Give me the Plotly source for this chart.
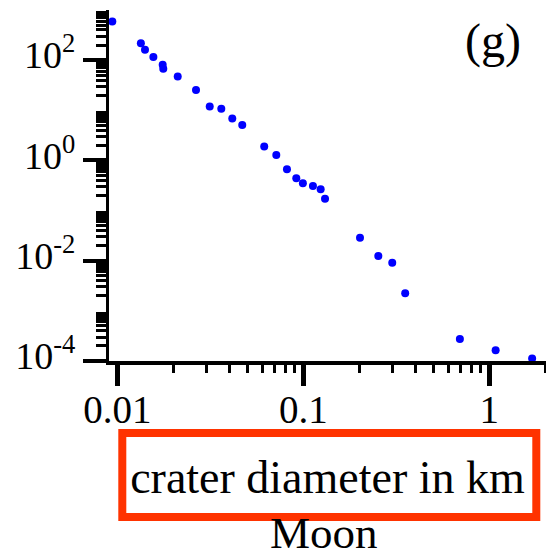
import plotly.graph_objects as go

# Data (crater diameter in km vs. value, log-log)
diameter_km = [0.0094, 0.01339, 0.01409, 0.01563, 0.01754, 0.01767, 0.02113, 0.0265,
               0.0314, 0.03624, 0.04152, 0.04697, 0.06166, 0.0716, 0.0817, 0.0917,
               0.0995, 0.1127, 0.124, 0.1309, 0.2018, 0.2532, 0.3008, 0.3531,
               0.695, 1.082, 1.70]
crater_count = [589, 218, 161, 115, 80.5, 67, 47.1, 25.5,
                11.9, 10.7, 6.83, 5.11, 1.885, 1.288, 0.667, 0.441,
                0.351, 0.310, 0.266, 0.173, 0.0288, 0.01241, 0.00912, 0.002234,
                0.000274, 0.000163, 0.0001127]

x_tickvals = [0.01, 0.1, 1]
x_ticktext = ["0.01", "0.1", "1"]
y_tickvals = [1e2, 1e0, 1e-2, 1e-4]
y_ticktext = ["10<sup>2</sup>", "10<sup>0</sup>", "10<sup>-2</sup>", "10<sup>-4</sup>"]
y_unlabeled_decades = [1e3, 1e1, 1e-1, 1e-3]
panel_label = "(g)"
x_title = "crater diameter in km"
subtitle = "Moon"

W, H = 546, 552
L, R, T, B = 109, 0, 10, 191

def minor_vals(lo, hi):
    vals = []
    for e in range(lo, hi):
        for m in range(2, 10):
            vals.append(m * 10.0 ** e)
    return vals

serif = "Liberation Serif, Times New Roman, serif"

fig = go.Figure()
fig.add_trace(go.Scatter(
    x=diameter_km, y=crater_count, mode="markers",
    marker=dict(color="#0000ff", size=8, line=dict(width=0)),
    showlegend=False, cliponaxis=True,
))

pw = W - L - R
ph = H - T - B

def px_x(p):
    return (p - L) / pw

def px_y(p):
    return (H - B - p) / ph

y_range = [-4, 3]

fig.update_layout(
    width=W, height=H,
    margin=dict(l=L, r=R, t=T, b=B, pad=0),
    paper_bgcolor="white", plot_bgcolor="white",
    font=dict(family=serif, color="black"),
    xaxis=dict(
        type="log", range=[-2.0446, 0.305],
        showgrid=False, zeroline=False,
        showline=True, linecolor="black", linewidth=4,
        ticks="outside", ticklen=21, tickwidth=4.5, tickcolor="black",
        tickmode="array", tickvals=x_tickvals, ticktext=x_ticktext,
        tickfont=dict(family=serif, size=39, color="black"),
        ticklabelstandoff=-10,
        minor=dict(tickmode="array", tickvals=minor_vals(-3, 1),
                   ticks="outside", ticklen=8, tickwidth=3, tickcolor="black", showgrid=False),
        title=dict(text=x_title, font=dict(family=serif, size=46, color="black"), standoff=32),
    ),
    yaxis=dict(
        type="log", range=y_range,
        showgrid=False, zeroline=False,
        showline=True, linecolor="black", linewidth=3,
        ticks="outside", ticklen=23, tickwidth=3.5, tickcolor="black",
        tickmode="array", tickvals=y_tickvals, ticktext=y_ticktext,
        tickfont=dict(family=serif, size=38, color="black"),
        ticklabelstandoff=0, ticklabelshift=-5,
        minor=dict(tickmode="array", tickvals=minor_vals(-4, 3),
                   ticks="outside", ticklen=10, tickwidth=2.5, tickcolor="black", showgrid=False),
    ),
    yaxis2=dict(
        type="log", range=y_range, overlaying="y", anchor="x", side="left",
        showgrid=False, zeroline=False, showline=False,
        ticks="outside", ticklen=23, tickwidth=3.5, tickcolor="black",
        tickmode="array", tickvals=y_unlabeled_decades, showticklabels=False,
    ),
)

fig.add_shape(type="rect", xref="paper", yref="paper",
              x0=px_x(122.3), x1=px_x(536.3), y0=px_y(517), y1=px_y(433),
              line=dict(color="#ff3300", width=8), fillcolor="rgba(0,0,0,0)")

fig.add_annotation(text=panel_label, xref="paper", yref="paper",
                   x=px_x(492.5), y=px_y(41), xanchor="center", yanchor="middle",
                   showarrow=False, font=dict(family=serif, size=48, color="black"))
fig.add_annotation(text=subtitle, xref="paper", yref="paper",
                   x=px_x(324), y=px_y(533), xanchor="center", yanchor="middle",
                   showarrow=False, font=dict(family=serif, size=45, color="black"))

fig.write_html("out.html")
